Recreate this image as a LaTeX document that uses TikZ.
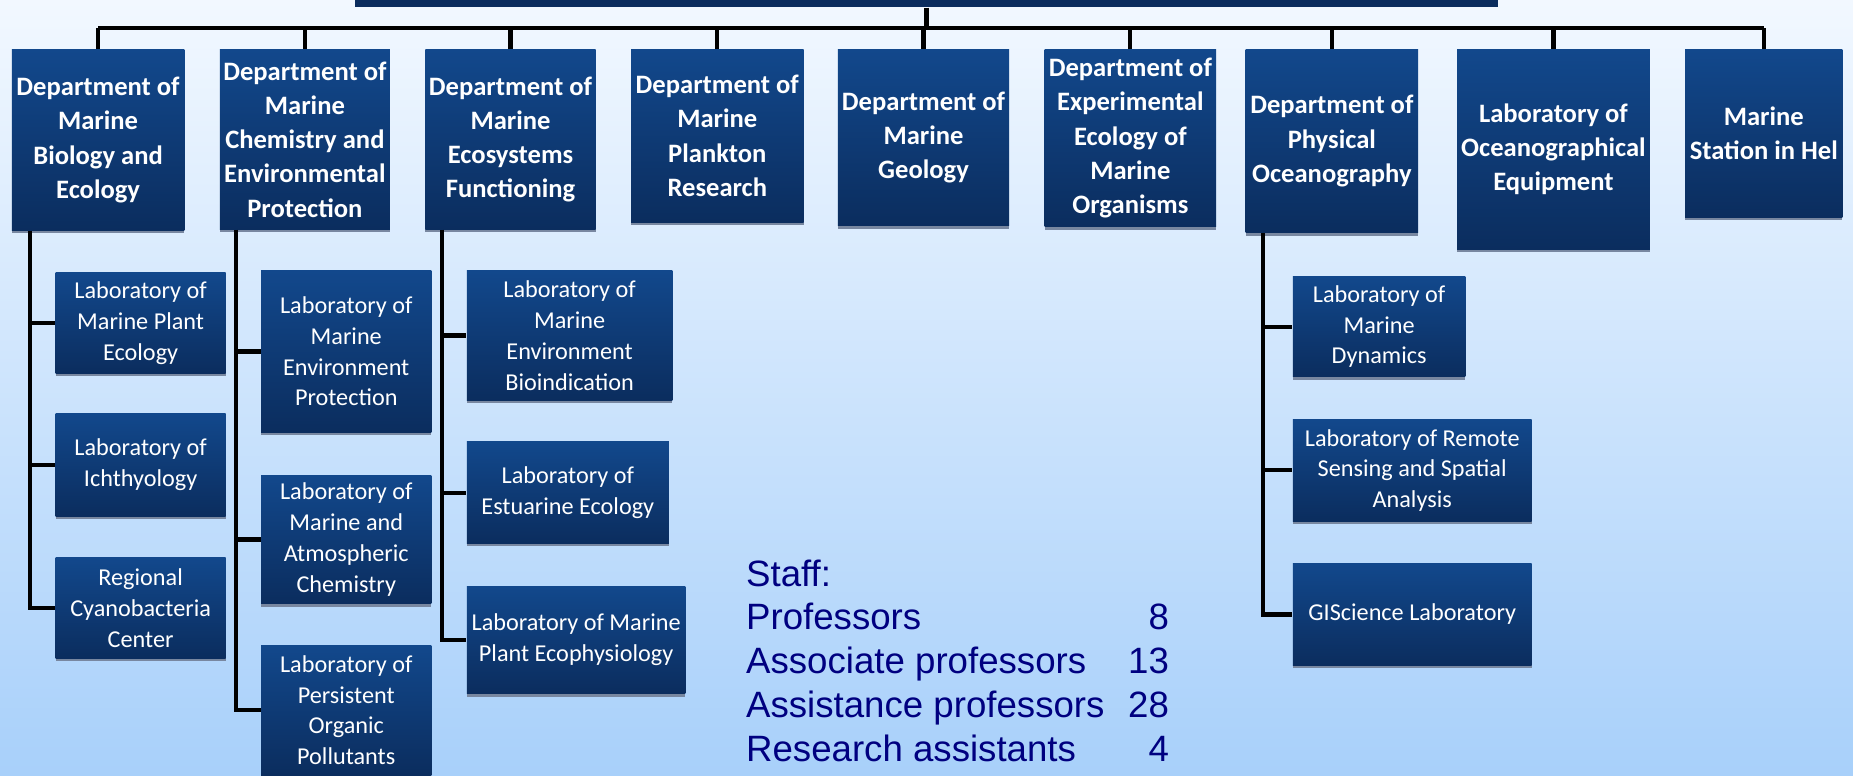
\documentclass[tikz,border=0pt]{standalone}
\usepackage{fontspec}
\setmainfont{Carlito}
\newfontfamily\stafffont{Liberation Sans}
\usetikzlibrary{shadows}

\definecolor{boxtop}{RGB}{18,72,140}
\definecolor{boxbot}{RGB}{11,45,94}
\definecolor{bgtop}{RGB}{242,248,255}
\definecolor{bgbot}{RGB}{168,208,250}
\definecolor{staffblue}{RGB}{0,0,128}
\definecolor{shadegray}{RGB}{120,135,160}

\tikzset{
  unit/.style = {rectangle, inner sep = 0pt, top color = boxtop, bottom color = boxbot,
    text = white, align = center,
    drop shadow = {shadow xshift = 0pt, shadow yshift = -1.2pt, fill = shadegray, opacity = 1}},
  boxsize/.style 2 args = {minimum width = #1*0.5pt, minimum height = #2*0.5pt},
  dept/.style = {unit, font = \fontsize{11.25}{14.5}\selectfont\bfseries},
  lab/.style = {unit, font = \fontsize{10.25}{13}\selectfont},
  link/.style = {line width = 1.8pt, black},
  staff/.style = {inner sep = 0pt, text = staffblue, font = \stafffont\fontsize{15.5}{18.5}\selectfont}
}

\begin{document}
\begin{tikzpicture}[x = 0.5pt, y = -0.5pt]
\useasboundingbox (0,0) rectangle (1568,656);
\clip (0,0) rectangle (1568,656);
\shade[top color = bgtop, bottom color = bgbot] (0,0) rectangle (1568,656);

% head bar and departments
\draw (784,-18) node[rectangle, fill = boxbot, boxsize = {968}{48}](head){};
\draw (83,118.5) node[dept, boxsize = {146}{153}](d1){Department of\\Marine\\Biology and\\Ecology}
    (258,118) node[dept, boxsize = {144}{152}](d2){Department of\\Marine\\Chemistry and\\Environmental\\Protection}
    (432,118) node[dept, boxsize = {144}{152}](d3){Department of\\Marine\\Ecosystems\\Functioning}
    (607,115) node[dept, boxsize = {146}{146}](d4){Department of\\Marine\\Plankton\\Research}
    (781.5,116.5) node[dept, boxsize = {145}{149}](d5){Department of\\Marine\\Geology}
    (956.5,117) node[dept, boxsize = {145}{150}](d6){Department of\\Experimental\\Ecology of\\Marine\\Organisms}
    (1127,119.5) node[dept, boxsize = {146}{155}](d7){Department of\\Physical\\Oceanography}
    (1314.5,126.5) node[dept, boxsize = {163}{169}](d8){Laboratory of\\Oceanographical\\Equipment}
    (1492.5,113) node[dept, boxsize = {133}{142}](d9){Marine\\Station in Hel};

% laboratories
\draw (119,273.5) node[lab, boxsize = {144}{85}](l1a){Laboratory of\\Marine Plant\\Ecology}
    (119,393.5) node[lab, boxsize = {144}{87}](l1b){Laboratory of\\Ichthyology}
    (119,514.5) node[lab, boxsize = {144}{85}](l1c){Regional\\Cyanobacteria\\Center};
\draw (293,297.5) node[lab, boxsize = {144}{137}](l2a){Laboratory of\\Marine\\Environment\\Protection}
    (293,456.5) node[lab, boxsize = {144}{109}](l2b){Laboratory of\\Marine and\\Atmospheric\\Chemistry}
    (293,601) node[lab, boxsize = {144}{110}](l2c){Laboratory of\\Persistent\\Organic\\Pollutants};
\draw (482,284) node[lab, boxsize = {174}{110}](l3a){Laboratory of\\Marine\\Environment\\Bioindication}
    (480.5,417) node[lab, boxsize = {171}{86}](l3b){Laboratory of\\Estuarine Ecology}
    (487.5,541.5) node[lab, boxsize = {185}{91}](l3c){Laboratory of Marine\\Plant Ecophysiology};
\draw (1167,276.5) node[lab, boxsize = {146}{85}](l7a){Laboratory of\\Marine\\Dynamics}
    (1195,398) node[lab, boxsize = {202}{86}](l7b){Laboratory of Remote\\Sensing and Spatial\\Analysis}
    (1195,520) node[lab, boxsize = {202}{86}](l7c){GIScience Laboratory};

% tree lines
\coordinate (bus) at (786,24);
\draw [link] (head.south) -- (head.south |- bus);
\draw [link] (d1.north |- bus) -- (d9.north |- bus);
\draw [link] (d1.north) -- (d1.north |- bus);
\draw [link] (d2.north) -- (d2.north |- bus);
\draw [link] (d3.north) -- (d3.north |- bus);
\draw [link] (d4.north) -- (d4.north |- bus);
\draw [link] (d5.north) -- (d5.north |- bus);
\draw [link] (d6.north) -- (d6.north |- bus);
\draw [link] (d7.north) -- (d7.north |- bus);
\draw [link] (d8.north) -- (d8.north |- bus);
\draw [link] (d9.north) -- (d9.north |- bus);

\coordinate (s1) at ([xshift = 8pt]d1.south west);
\coordinate (s2) at ([xshift = 7pt]d2.south west);
\coordinate (s3) at ([xshift = 7.3pt]d3.south west);
\coordinate (s7) at ([xshift = 7.5pt]d7.south west);
\draw [link] (s1) |- (l1c.west);
\draw [link] (s1 |- l1a.west) -- (l1a.west);
\draw [link] (s1 |- l1b.west) -- (l1b.west);
\draw [link] (s2) |- (l2c.west);
\draw [link] (s2 |- l2a.west) -- (l2a.west);
\draw [link] (s2 |- l2b.west) -- (l2b.west);
\draw [link] (s3) |- (l3c.west);
\draw [link] (s3 |- l3a.west) -- (l3a.west);
\draw [link] (s3 |- l3b.west) -- (l3b.west);
\draw [link] (s7) |- (l7c.west);
\draw [link] (s7 |- l7a.west) -- (l7a.west);
\draw [link] (s7 |- l7b.west) -- (l7b.west);

% staff numbers
\draw (631,496) node[staff, anchor = base west](st0){Staff:}
    (631,533) node[staff, anchor = base west](st1){Professors}
    (989.5,533) node[staff, anchor = base east](n1){8}
    (631,570) node[staff, anchor = base west](st2){Associate professors}
    (989.5,570) node[staff, anchor = base east](n2){13}
    (631,607) node[staff, anchor = base west](st3){Assistance professors}
    (989.5,607) node[staff, anchor = base east](n3){28}
    (631,644) node[staff, anchor = base west](st4){Research assistants}
    (989.5,644) node[staff, anchor = base east](n4){4};
\end{tikzpicture}
\end{document}
